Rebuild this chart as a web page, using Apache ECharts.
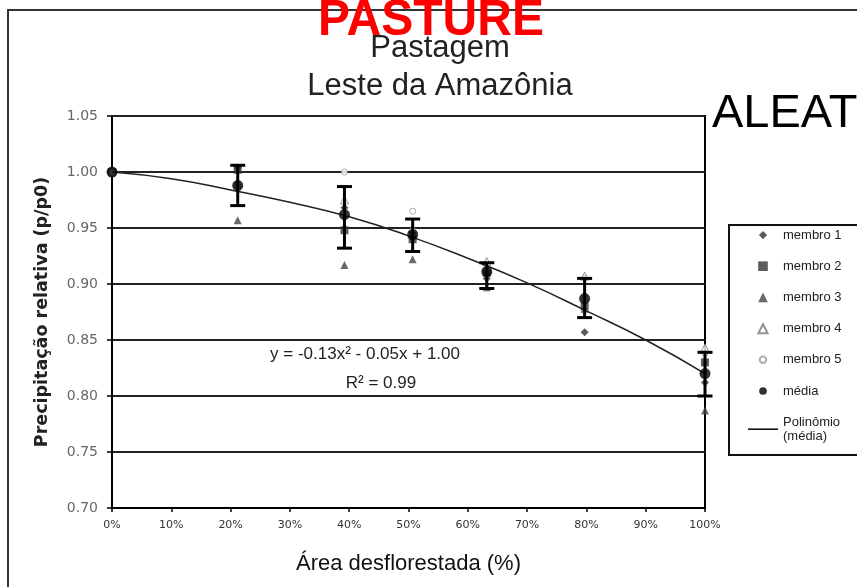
<!DOCTYPE html>
<html><head><meta charset="utf-8">
<script src="https://cdn.jsdelivr.net/npm/echarts@6/dist/echarts.min.js"></script>
<style>html,body{margin:0;padding:0;background:#fff}#c{width:857px;height:587px}</style>
</head><body><div id="c"></div>
<script>
// ---- data ----
const xPct    = [0, 21.2, 39.2, 50.7, 63.2, 79.7, 100];
const membro1 = [1.000, 1.004, 0.968, 0.946, 0.905, 0.857, 0.812];
const membro2 = [1.000, 1.002, 0.948, 0.940, 0.910, 0.880, 0.830];
const membro3 = [1.000, 0.957, 0.917, 0.922, 0.897, 0.878, 0.787];
const membro4 = [1.000, 0.990, 0.975, 0.950, 0.920, 0.907, 0.843];
const membro5 = [1.000, 0.985, 1.000, 0.965, 0.914, 0.905, 0.838];
const media   = [1.000, 0.988, 0.962, 0.944, 0.911, 0.887, 0.820];
const errLow  = [1.000, 0.970, 0.932, 0.929, 0.896, 0.870, 0.800];
const errHigh = [1.000, 1.006, 0.987, 0.958, 0.919, 0.905, 0.839];
const polyX   = [0, 10, 20, 30, 40, 50, 60, 70, 80, 90, 100];
const polyY   = [1.000, 0.994, 0.984, 0.973, 0.960, 0.943, 0.923, 0.901, 0.876, 0.850, 0.820];
const legendNames = ['membro 1', 'membro 2', 'membro 3', 'membro 4', 'membro 5', 'média', 'Polinômio\n(média)'];

// legend icon shapes (8x8 box, keeps aspect)
const legendIcons = [
  'path://M0,0M8,8M4,1L7,4L4,7L1,4Z',
  'path://M0,0M8,8M0.5,0.5H7.5V7.5H0.5Z',
  'path://M0,0M8,8M4,0.5L7.5,7.5H0.5Z',
  'path://M0,0M8,8M4,0.8L7.3,7.3H0.7Z',
  'path://M0,0M8,8M1.6,4A2.4,2.4,0,1,0,6.4,4A2.4,2.4,0,1,0,1.6,4Z',
  'path://M0,0M8,8M1.2,4A2.8,2.8,0,1,0,6.8,4A2.8,2.8,0,1,0,1.2,4Z',
  'path://M0,0H30V1.6H0Z'
];

const pair = (ys) => xPct.map((x, i) => [x, ys[i]]);
const chart = echarts.init(document.getElementById('c'));

const memberSeries = (name, ys, symbol, size, style) => ({
  type: 'scatter', name, data: pair(ys), symbol, symbolSize: size,
  itemStyle: style, z: 2, emphasis: { disabled: true }
});

chart.setOption({
  animation: false,
  backgroundColor: '#fff',
  grid: { left: 112, right: 152, top: 116, bottom: 79, show: true, borderColor: '#000', borderWidth: 2, backgroundColor: 'transparent' },
  xAxis: {
    type: 'value', min: 0, max: 100, interval: 10,
    axisLine: { lineStyle: { color: '#000', width: 2 } },
    axisTick: { show: true, length: 4, lineStyle: { color: '#000', width: 1.5 } },
    splitLine: { show: false },
    axisLabel: { formatter: '{value}%', margin: 12, fontFamily: 'DejaVu Sans', fontSize: 11, color: '#333' },
    name: 'Área desflorestada (%)', nameLocation: 'middle', nameGap: 45,
    nameTextStyle: { fontFamily: 'Liberation Sans', fontSize: 22, color: '#111' }
  },
  yAxis: {
    type: 'value', min: 0.70, max: 1.05, interval: 0.05,
    axisLine: { show: true, lineStyle: { color: '#000', width: 2 } },
    axisTick: { show: true, length: 5, lineStyle: { color: '#000', width: 1.5 } },
    splitLine: { show: true, lineStyle: { color: '#222', width: 2 } },
    axisLabel: { formatter: v => v.toFixed(2), margin: 14, fontFamily: 'DejaVu Sans', fontSize: 14, color: '#666' },
    name: 'Precipitação relativa (p/p0)', nameLocation: 'middle', nameGap: 61, nameRotate: 90,
    nameTextStyle: { fontFamily: 'DejaVu Sans', fontWeight: 'bold', fontSize: 17.5, color: '#222' }
  },
  legend: {
    orient: 'vertical', left: 743, top: 223, itemWidth: 30, itemHeight: 11, itemGap: 17.2,
    selectedMode: false,
    textStyle: { fontFamily: 'Liberation Sans', fontSize: 13, lineHeight: 14, color: '#222' },
    data: legendNames.map((n, i) => i === 6
      ? { name: n, icon: legendIcons[i], itemStyle: { color: '#111' } }
      : { name: n, icon: legendIcons[i] })
  },
  series: [
    memberSeries('membro 1', membro1, 'diamond', 8, { color: '#333' }),
    memberSeries('membro 2', membro2, 'rect', 8, { color: '#333' }),
    memberSeries('membro 3', membro3, 'triangle', 8, { color: '#444' }),
    memberSeries('membro 4', membro4, 'triangle', 8, { color: '#fff', borderColor: '#777', borderWidth: 1 }),
    memberSeries('membro 5', membro5, 'circle', 6, { color: '#fff', borderColor: '#999', borderWidth: 1 }),
    {
      type: 'line', name: 'Polinômio\n(média)', data: polyX.map((x, i) => [x, polyY[i]]),
      smooth: true, symbol: 'none', lineStyle: { color: '#222', width: 1.5 }, itemStyle: { color: '#222' }, z: 3,
      emphasis: { disabled: true }
    },
    {
      type: 'custom', name: 'erro', z: 4,
      data: xPct.map((x, i) => [x, errLow[i], errHigh[i]]),
      encode: { x: 0, y: [1, 2] },
      renderItem: (params, api) => {
        const x = api.value(0), lo = api.value(1), hi = api.value(2);
        if (lo === hi) return null;
        const a = api.coord([x, hi]), b = api.coord([x, lo]);
        const w = 7.5, st = { stroke: '#000', lineWidth: 3 };
        return { type: 'group', children: [
          { type: 'line', shape: { x1: a[0], y1: a[1], x2: b[0], y2: b[1] }, style: st },
          { type: 'line', shape: { x1: a[0] - w, y1: a[1], x2: a[0] + w, y2: a[1] }, style: st },
          { type: 'line', shape: { x1: b[0] - w, y1: b[1], x2: b[0] + w, y2: b[1] }, style: st }
        ]};
      }
    },
    {
      type: 'scatter', name: 'média', data: pair(media), symbol: 'circle', symbolSize: 11,
      itemStyle: { color: '#000' }, z: 5, emphasis: { disabled: true }
    }
  ],
  graphic: [
    { type: 'rect', z: -1, shape: { x: 8, y: 10, width: 900, height: 600 }, style: { fill: 'none', stroke: '#333', lineWidth: 2 } },
    { type: 'rect', z: 1, shape: { x: 729, y: 225, width: 200, height: 230 }, style: { fill: 'none', stroke: '#111', lineWidth: 2 } },
    { type: 'text', z: 10, x: 431, y: 21, scaleX: 0.96, originX: 0, originY: 0, style: { text: 'PASTURE', font: 'bold 50px "Liberation Sans"', fill: '#ff0000', align: 'center', verticalAlign: 'middle' } },
    { type: 'text', x: 440, y: 48, style: { text: 'Pastagem', font: '31px "Liberation Sans"', fill: '#222', align: 'center', verticalAlign: 'middle' } },
    { type: 'text', x: 440, y: 86, style: { text: 'Leste da Amazônia', font: '31px "Liberation Sans"', fill: '#222', align: 'center', verticalAlign: 'middle' } },
    { type: 'text', x: 712, y: 114, style: { text: 'ALEAT', font: '47px "Liberation Sans"', fill: '#000', align: 'left', verticalAlign: 'middle' } },
    { type: 'text', x: 365, y: 354, style: { text: 'y = -0.13x² - 0.05x + 1.00', font: '17px "Liberation Sans"', fill: '#222', align: 'center', verticalAlign: 'middle' } },
    { type: 'text', x: 381, y: 383, style: { text: 'R² = 0.99', font: '17px "Liberation Sans"', fill: '#222', align: 'center', verticalAlign: 'middle' } }
  ]
});
</script>
</body></html>
